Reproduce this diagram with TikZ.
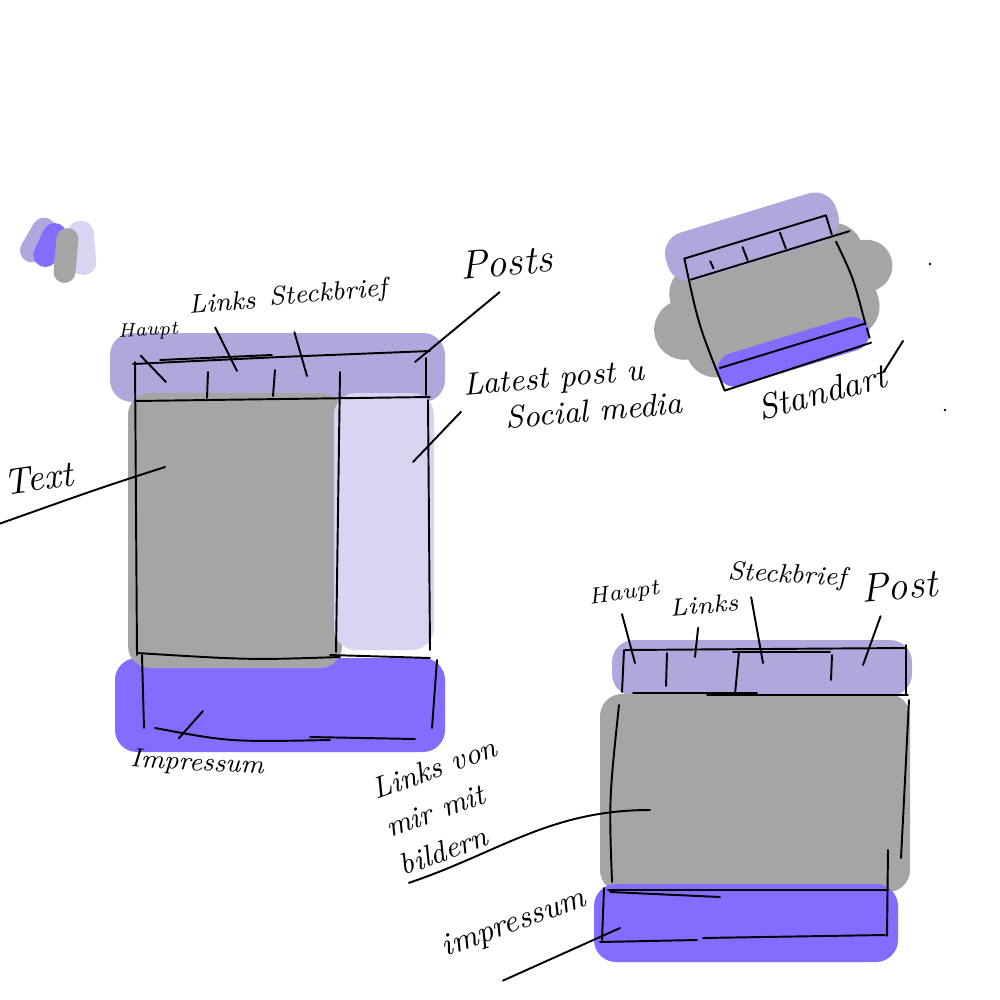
\documentclass[tikz,border=0pt]{standalone}
\usepackage{tikz}
\usetikzlibrary{positioning}

\definecolor{hdrpurple}{HTML}{B0A8DC}
\definecolor{ftrblue}{HTML}{836CFF}
\definecolor{bodygray}{HTML}{A5A5A5}
\definecolor{sidelav}{HTML}{DAD4F2}

\begin{document}
\begin{tikzpicture}[
    x=0.01cm, y=-0.01cm,
    blob/.style={rounded corners=2.2mm},
    pen/.style={line width=0.55pt, line cap=round},
    hand/.style={font=\itshape, inner sep=1pt},
    tinyhand/.style={hand, font=\fontsize{5.5}{6}\selectfont\itshape},
    smallhand/.style={hand, font=\fontsize{7.5}{9}\selectfont\itshape},
    midhand/.style={hand, font=\fontsize{9}{10.5}\selectfont\itshape},
    bighand/.style={hand, font=\fontsize{11.5}{13}\selectfont\itshape}
]
\useasboundingbox[fill=white] (0,0) rectangle (1000,1000);

% Palette
\fill[hdrpurple, rounded corners=1.2mm, rotate around={-30:(38,240)}] (26,216) rectangle (50,264);
\fill[ftrblue, rounded corners=1.2mm, rotate around={-25:(50,245)}] (38,222) rectangle (62,268);
\fill[sidelav, rounded corners=1.2mm, rotate around={5:(82,248)}] (69,221) rectangle (95,275);
\fill[bodygray, rounded corners=1.1mm, rotate around={-5:(66,255)}] (55,228) rectangle (77,283);

% Left page: colour fills
\fill[hdrpurple, blob] (110,333) rectangle (445,402);
\fill[ftrblue, blob] (115,658) rectangle (445,752);
\fill[bodygray, blob] (128,393) rectangle (342,668);
\fill[sidelav, blob] (334,393) rectangle (434,650);

% Left page: strokes
\draw[pen] (133,364) -- (280,357) -- (430,351);
\draw[pen] (160,360) -- (272,355);
\draw[pen] (135,401) -- (430,397);
\draw[pen] (135,362) -- (137,655);
\draw[pen] (208,372) -- (207,398);
\draw[pen] (275,370) -- (273,396);
\draw[pen] (340,372) -- (336,652);
\draw[pen] (426,358) -- (426,395);
\draw[pen] (428,400) -- (430,650);
\draw[pen] (137,653) .. controls (250,660) .. (340,657);
\draw[pen] (330,655) -- (430,658);
\draw[pen] (142,655) -- (144,728);
\draw[pen] (437,660) -- (432,728);
\draw[pen] (155,728) .. controls (230,742) .. (330,740);
\draw[pen] (310,737) -- (415,739);

% Left page: labels
\node[tinyhand, rotate=3] (lhaupt) at (148,331) {Haupt};
\node[smallhand, rotate=5] (llinks) at (222,302) {Links};
\node[smallhand, rotate=5] (lsteck) at (328,294) {Steckbrief};
\node[bighand, rotate=5] (lposts) at (506,262) {Posts};
\node[midhand, rotate=5, align=left] (llatest) at (573,394) {Latest post u\\\hspace{11pt}Social media};
\node[hand, font=\fontsize{10.5}{12}\selectfont\itshape, rotate=8] (ltext) at (38,478) {Text};
\node[smallhand, rotate=-3] (limpr) at (197,764) {Impressum};

\coordinate (lhaupt-tip) at (166,382);
\coordinate (llinks-tip) at (237,371);
\coordinate (lsteck-tip) at (307,376);
\coordinate (lposts-tip) at (415,362);
\coordinate (llatest-tip) at (413,462);
\coordinate (ltext-tip) at (165,467);
\coordinate (limpr-tip) at (203,711);

\draw[pen] (lhaupt.south) ++(-8,12) -- (lhaupt-tip);
\draw[pen] (llinks.south) ++(-8,12) -- (llinks-tip);
\draw[pen] (lsteck.south) ++(-35,22) -- (lsteck-tip);
\draw[pen] (lposts.south) ++(-8,12) -- (lposts-tip);
\draw[pen] (llatest.west) ++(0,8) -- (llatest-tip);
\draw[pen] (ltext.south west) ++(-9,26) .. controls (100,488) .. (ltext-tip);
\draw[pen] (limpr.north) ++(-19,-10) -- (limpr-tip);

% Small page (standard), turned
\begin{scope}[shift={(775,302)}, rotate=17]
    \fill[bodygray, rounded corners=3mm] (-100,-60) rectangle (100,56);
    \fill[bodygray] (-95,0) circle (30);
    \fill[bodygray] (98,-8) circle (26);
    \fill[hdrpurple, rounded corners=2.2mm] (-92,-94) rectangle (86,-44);
    \fill[ftrblue, rounded corners=1.8mm] (-76,36) rectangle (82,70);
    \draw[pen] (-74,-68) -- (74,-68);
    \draw[pen] (-74,-46) -- (92,-46);
    \draw[pen] (-74,-68) .. controls (-80,0) .. (-74,70);
    \draw[pen] (74,-68) -- (74,-48);
    \draw[pen] (76,-40) .. controls (82,0) .. (80,48);
    \draw[pen] (-50,-58) -- (-49,-50);
    \draw[pen] (-15,-62) -- (-14,-48);
    \draw[pen] (25,-65) -- (26,-48);
    \draw[pen] (-72,47) -- (80,47);
    \draw[pen] (-74,70) -- (80,67);
    \draw[pen] (80,52) -- (80,62);
\end{scope}
\node[hand, font=\fontsize{10}{12}\selectfont\itshape, rotate=15] (lstd) at (822,392) {Standart};
\coordinate (lstd-tip) at (903,341);
\draw[pen] (lstd.east) ++(-6,-2) -- (lstd-tip);
\fill (930,264) circle (1.3);
\fill (945,410) circle (1.3);

% Lower right page: colour fills
\fill[hdrpurple, blob] (612,640) rectangle (912,696);
\fill[bodygray, blob] (600,694) rectangle (910,892);
\fill[ftrblue, blob] (594,884) rectangle (898,962);

% Lower right page: strokes
\draw[pen] (625,650) -- (906,648);
\draw[pen] (733,652) -- (830,652);
\draw[pen] (633,693) -- (757,693);
\draw[pen] (707,695) -- (908,695);
\draw[pen] (624,650) -- (622,692);
\draw[pen] (667,653) -- (666,686);
\draw[pen] (739,652) -- (735,694);
\draw[pen] (832,655) -- (831,680);
\draw[pen] (906,645) -- (906,695);
\draw[pen] (619,705) .. controls (609,800) .. (612,882);
\draw[pen] (909,700) .. controls (904,800) .. (901,858);
\draw[pen] (888,850) -- (887,936);
\draw[pen] (608,890) -- (887,890);
\draw[pen] (610,892) -- (720,897);
\draw[pen] (604,888) -- (602,940);
\draw[pen] (600,942) -- (697,940);
\draw[pen] (703,938) -- (885,935);

% Lower right page: labels
\node[tinyhand, rotate=8, font=\fontsize{6.5}{7}\selectfont\itshape] (rhaupt) at (624,594) {Haupt};
\node[tinyhand, rotate=5, font=\fontsize{7}{8}\selectfont\itshape] (rlinks) at (704,605) {Links};
\node[smallhand, rotate=-3] (rsteck) at (787,576) {Steckbrief};
\node[bighand, rotate=5] (rpost) at (899,586) {Post};
\node[hand, font=\fontsize{8.5}{11.5}\selectfont\itshape, rotate=20, align=left] (rlinksvon) at (448,806) {Links von\\mir mit\\bildern};
\node[midhand, rotate=20] (rimpr) at (514,924) {impressum};

\coordinate (rhaupt-tip) at (635,663);
\coordinate (rlinks-tip) at (695,657);
\coordinate (rsteck-tip) at (763,663);
\coordinate (rpost-tip) at (863,665);
\coordinate (rlinksvon-tip) at (650,810);
\coordinate (rimpr-tip) at (620,928);

\draw[pen] (rhaupt.south) ++(-4,6) -- (rhaupt-tip);
\draw[pen] (rlinks.south) ++(-7,10) -- (rlinks-tip);
\draw[pen] (rsteck.south) ++(-35,5) -- (rsteck-tip);
\draw[pen] (rpost.south) ++(-20,12) -- (rpost-tip);
\draw[pen] (rlinksvon.south) ++(-58,25) .. controls (500,852) and (550,810) .. (rlinksvon-tip);
\draw[pen] (rimpr.south) ++(-17,40) -- (rimpr-tip);

\end{tikzpicture}
\end{document}
